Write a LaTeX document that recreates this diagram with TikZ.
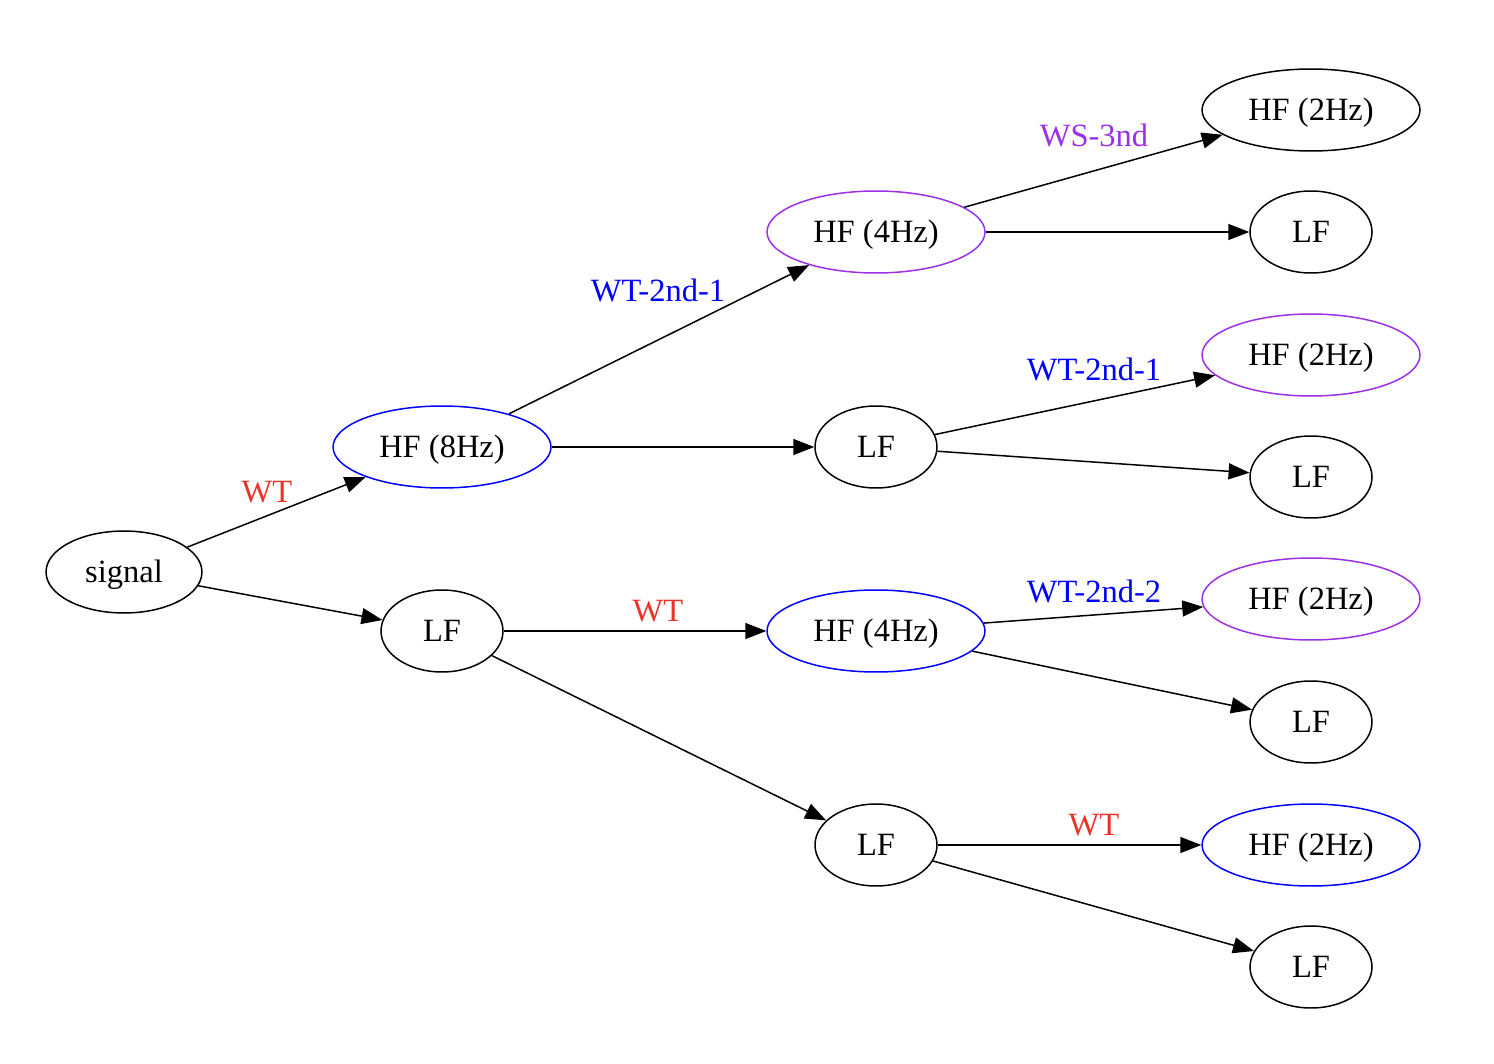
\documentclass[tikz,border=0pt]{standalone}
\usepackage{fontspec}
\setmainfont{Liberation Serif}
\usetikzlibrary{shapes.geometric,arrows.meta}
\definecolor{gvred}{RGB}{232,52,40}
\definecolor{gvpurple}{RGB}{155,48,230}
\definecolor{gvblue}{RGB}{0,0,255}
\tikzset{
  base/.style={ellipse,draw,line width=0.85pt,inner sep=0pt,minimum height=1.64cm,text height=14pt,text depth=1.8pt,font=\fontsize{18.5}{22}\selectfont},
  hf/.style={base,minimum width=4.36cm},
  lf/.style={base,minimum width=2.44cm},
  sig/.style={base,minimum width=3.12cm},
  edge/.style={line width=0.85pt,-{Triangle[length=0.42cm,width=0.32cm]}},
  lab/.style={font=\fontsize{18.5}{22}\selectfont,inner sep=0pt},
}
\begin{document}
\begin{tikzpicture}[x=0.02cm,y=-0.02cm]
\useasboundingbox (0,0) rectangle (1494,1064);
\node[sig] (signal) at (124,572) {signal};
\node[hf,draw=gvblue] (hf8) at (442,447) {HF (8Hz)};
\node[lf] (lf1) at (442,631) {LF};
\node[hf,draw=gvpurple] (hf4a) at (876,232) {HF (4Hz)};
\node[lf] (lf2a) at (876,447) {LF};
\node[hf,draw=gvblue] (hf4b) at (876,631) {HF (4Hz)};
\node[lf] (lf2b) at (876,845) {LF};
\node[hf] (hf2a) at (1311,110) {HF (2Hz)};
\node[lf] (lf3a) at (1311,232) {LF};
\node[hf,draw=gvpurple] (hf2b) at (1311,355) {HF (2Hz)};
\node[lf] (lf3b) at (1311,477) {LF};
\node[hf,draw=gvpurple] (hf2c) at (1311,599) {HF (2Hz)};
\node[lf] (lf3c) at (1311,722) {LF};
\node[hf,draw=gvblue] (hf2d) at (1311,845) {HF (2Hz)};
\node[lf] (lf3d) at (1311,967) {LF};

\node[lab,text=gvred] (l1) at (267,492) {WT};
\node[lab,text=gvblue] (l2) at (658,290) {WT-2nd-1};
\node[lab,text=gvred] (l3) at (658,611) {WT};
\node[lab,text=gvpurple] (l4) at (1094,135) {WS-3nd};
\node[lab,text=gvblue] (l5) at (1094,369) {WT-2nd-1};
\node[lab,text=gvblue] (l6) at (1094,591) {WT-2nd-2};
\node[lab,text=gvred] (l7) at (1094,825) {WT};

\draw[edge] (signal) -- (hf8);
\draw[edge] (signal) -- (lf1);
\draw[edge] (hf8) -- (hf4a);
\draw[edge] (hf8) -- (lf2a);
\draw[edge] (lf1) -- (hf4b);
\draw[edge] (lf1) -- (lf2b);
\draw[edge] (hf4a) -- (hf2a);
\draw[edge] (hf4a) -- (lf3a);
\draw[edge] (lf2a) -- (hf2b);
\draw[edge] (lf2a) -- (lf3b);
\draw[edge] (hf4b) -- (hf2c);
\draw[edge] (hf4b) -- (lf3c);
\draw[edge] (lf2b) -- (hf2d);
\draw[edge] (lf2b) -- (lf3d);
\end{tikzpicture}
\end{document}
